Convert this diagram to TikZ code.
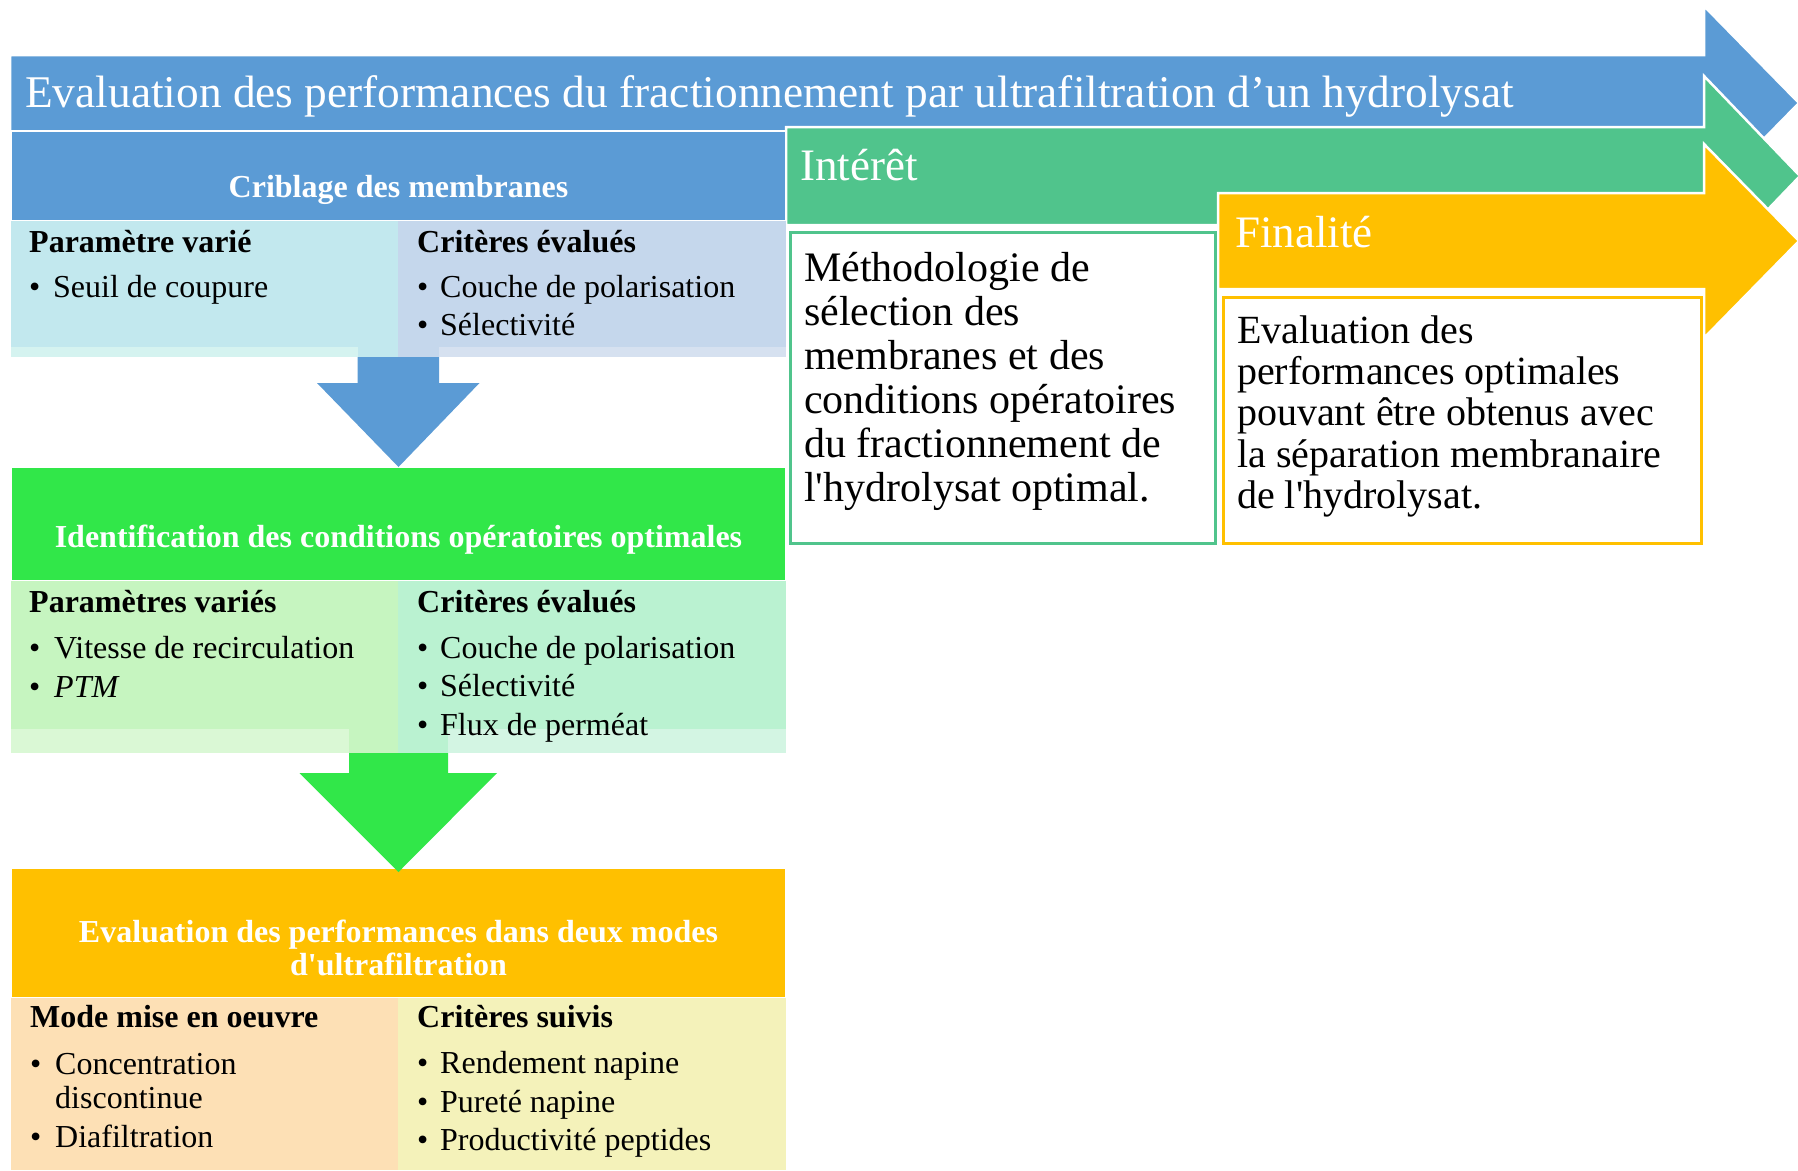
\documentclass[tikz,border=0pt]{standalone}
\usepackage{fontspec}
\setmainfont{Liberation Serif}[Ligatures=TeXOff]
\usetikzlibrary{calc}
\definecolor{bleu}{RGB}{91,155,213}
\definecolor{vert}{RGB}{80,196,140}
\definecolor{vif}{RGB}{49,231,73}
\definecolor{jaune}{RGB}{255,192,0}
\definecolor{cyanclair}{RGB}{194,232,238}
\definecolor{cyanpale}{RGB}{213,243,240}
\definecolor{bleuclair}{RGB}{197,215,236}
\definecolor{bleupale}{RGB}{214,225,240}
\definecolor{vertclair}{RGB}{198,245,192}
\definecolor{vertpale}{RGB}{218,248,213}
\definecolor{mentheclair}{RGB}{186,242,209}
\definecolor{menthepale}{RGB}{211,245,227}
\definecolor{peche}{RGB}{253,224,181}
\definecolor{citron}{RGB}{244,242,186}
\tikzset{
	fleche/.style={draw=white, line width=2.5pt},
	bloc/.style={draw=white, line width=1.5pt, inner sep=0pt, outer sep=0pt, anchor=north west, minimum width=775pt},
	sousbloc/.style={inner sep=0pt, outer sep=0pt, anchor=north west},
	grand/.style={anchor=base west, inner sep=0pt, text=white, font=\fontsize{45}{50}\selectfont},
	entete/.style={anchor=base, inner sep=0pt, text=white, font=\fontsize{32}{36}\selectfont\bfseries},
	rubrique/.style={anchor=base west, inner sep=0pt, font=\fontsize{32}{36}\selectfont\bfseries},
	ligne/.style={anchor=base west, inner sep=0pt, font=\fontsize{32}{36}\selectfont},
}

\begin{document}
\begin{tikzpicture}[x=1pt, y=-1pt]

	\clip (0,0) rectangle (1798,1170);

	% les trois fleches du haut
	\draw[fleche, fill=bleu] (10,55) -- (1704,55) -- (1704,6) -- (1799,103) -- (1704,200) -- (1704,151) -- (10,151) -- cycle;
	\draw[fleche, fill=vert] (786,127) -- (1704,127) -- (1704,76) -- (1800,176) -- (1704,276) -- (1704,225) -- (786,225) -- cycle;
	\draw[fleche, fill=jaune] (1218,193) -- (1704,193) -- (1704,144) -- (1799,241) -- (1704,338) -- (1704,289) -- (1218,289) -- cycle;
	\node[grand, font=\fontsize{45.35}{50}\selectfont] (titre) at (25,107) {Evaluation des performances du fractionnement par ultrafiltration d’un hydrolysat};
	\node[grand] (interet) at (800,180) {Intérêt};
	\node[grand] (finalite) at (1235,247) {Finalité};

	% cadres de texte
	\node[sousbloc, draw=vert, line width=3pt, fill=white, minimum width=425pt, minimum height=311pt] (meth) at (790,232) {};
	\foreach \l [count=\i] in {Méthodologie de, sélection des, membranes et des, conditions opératoires, du fractionnement de, l'hydrolysat optimal.}
		\node[ligne, font=\fontsize{42}{44}\selectfont] (methl\i) at ({804},{237+44*\i}) {\l};
	\node[sousbloc, draw=jaune, line width=3pt, fill=white, minimum width=478pt, minimum height=246pt] (fin) at (1223,297) {};
	\foreach \l [count=\i] in {Evaluation des, performances optimales, pouvant être obtenus avec, la séparation membranaire, de l'hydrolysat.}
		\node[ligne, font=\fontsize{40}{41}\selectfont] (finl\i) at ({1237},{302+41.25*\i}) {\l};

	% criblage
	\node[bloc, fill=bleu, minimum height=90pt] (crib) at (11,131) {};
	\node[entete] (cribt) at ($(crib.south)+(0,-24)$) {Criblage des membranes};
	\node[sousbloc, fill=cyanclair, minimum width=387pt, minimum height=136pt] (cribG) at (crib.south west) {};
	\node[sousbloc, fill=bleuclair, minimum width=388pt, minimum height=136pt] (cribD) at (cribG.north east) {};
	\fill[cyanpale] (cribG.south west) rectangle ($(cribG.south east)+(-40,-10)$);
	\fill[bleupale] ($(cribD.south west)+(41,-10)$) rectangle (cribD.south east);
	\node[rubrique] (cribGh) at (29,252) {Paramètre varié};
	\node[ligne] (cribGp1) at (29,297) {•};
	\node[ligne] (cribGt1) at (53,297) {Seuil de coupure};
	\node[rubrique] (cribDh) at (417,252) {Critères évalués};
	\foreach \l [count=\i] in {Couche de polarisation, Sélectivité} {
		\node[ligne] (cribDp\i) at ({417},{259+38*\i}) {•};
		\node[ligne] (cribDt\i) at ({440},{259+38*\i}) {\l};
	}

	% identification
	\node[bloc, fill=vif, minimum height=114pt] (ident) at (11,467) {};
	\node[entete] (identt) at ($(ident.south)+(0,-34)$) {Identification des conditions opératoires optimales};
	\node[sousbloc, fill=vertclair, minimum width=387pt, minimum height=172pt] (identG) at (ident.south west) {};
	\node[sousbloc, fill=mentheclair, minimum width=388pt, minimum height=172pt] (identD) at (identG.north east) {};
	\fill[vertpale] (identG.south west) rectangle ($(identG.south east)+(-49,-24)$);
	\fill[menthepale] ($(identD.south west)+(50,-24)$) rectangle (identD.south east);
	\node[rubrique] (identGh) at (29,612) {Paramètres variés};
	\node[ligne] (identGp1) at (29,658) {•};
	\node[ligne] (identGt1) at (54,658) {Vitesse de recirculation};
	\node[ligne] (identGp2) at (29,697) {•};
	\node[ligne] (identGt2) at (54,697) {\textit{PTM}};
	\node[rubrique] (identDh) at (417,612) {Critères évalués};
	\foreach \l [count=\i] in {Couche de polarisation, Sélectivité, Flux de perméat} {
		\node[ligne] (identDp\i) at ({417},{619.5+38.5*\i}) {•};
		\node[ligne] (identDt\i) at ({440},{619.5+38.5*\i}) {\l};
	}

	% evaluation
	\node[bloc, fill=jaune, minimum height=130pt] (evalh) at (11,868) {};
	\node[entete] (evalt1) at ($(evalh.south)+(0,-56)$) {Evaluation des performances dans deux modes};
	\node[entete] (evalt2) at ($(evalh.south)+(0,-23)$) {d'ultrafiltration};
	\node[sousbloc, fill=peche, minimum width=387pt, minimum height=172pt] (evalG) at (evalh.south west) {};
	\node[sousbloc, fill=citron, minimum width=388pt, minimum height=172pt] (evalD) at (evalG.north east) {};
	\node[rubrique] (evalGh) at (30,1027) {Mode mise en oeuvre};
	\node[ligne] (evalGp1) at (30,1074) {•};
	\node[ligne] (evalGt1) at (55,1074) {Concentration};
	\node[ligne] (evalGt2) at (55,1108) {discontinue};
	\node[ligne] (evalGp2) at (30,1147) {•};
	\node[ligne] (evalGt3) at (55,1147) {Diafiltration};
	\node[rubrique] (evalDh) at (417,1027) {Critères suivis};
	\foreach \l [count=\i] in {Rendement napine, Pureté napine, Productivité peptides} {
		\node[ligne] (evalDp\i) at ({417},{1035+38.5*\i}) {•};
		\node[ligne] (evalDt\i) at ({440},{1035+38.5*\i}) {\l};
	}

	% fleches vers le bas
	\fill[bleu] ($(cribG.south east)+(-40.5,0)$) -- ++(0,26) -- ++(-40.5,0) -- (ident.north) -- ++(81,-84) -- ++(-40.5,0) -- ++(0,-26) -- cycle;
	\fill[vif] ($(identG.south east)+(-49,0)$) -- ++(0,20) -- ++(-49.5,0) -- ($(evalh.north)+(0,4)$) -- ++(98.5,-99) -- ++(-49,0) -- ++(0,-20) -- cycle;

\end{tikzpicture}
\end{document}
